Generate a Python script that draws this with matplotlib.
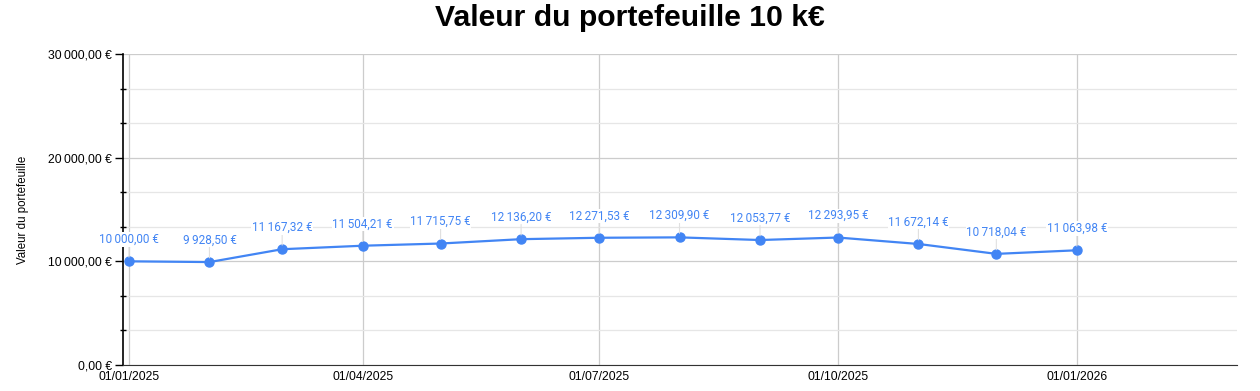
import numpy as np
import matplotlib
matplotlib.use("Agg")
from matplotlib import pyplot as plt
import matplotlib.dates as mdates
from matplotlib.ticker import FuncFormatter, MultipleLocator
import datetime as dt

dates = [dt.date(2025, m, 1) for m in range(1, 13)] + [dt.date(2026, 1, 1)]
values = [10000.00, 9928.50, 11167.32, 11504.21, 11715.75, 12136.20, 12271.53,
          12309.90, 12053.77, 12293.95, 11672.14, 10718.04, 11063.98]
xtick_dates = [dt.date(2025, 1, 1), dt.date(2025, 4, 1), dt.date(2025, 7, 1),
               dt.date(2025, 10, 1), dt.date(2026, 1, 1)]

BLUE = "#4285F4"


def euro(v, decimals=2):
    s = f"{v:,.{decimals}f}"
    s = s.replace(",", "\u2009").replace(".", ",")
    return s + " €"


fig = plt.figure(figsize=(12.6, 3.91), dpi=100)
ax = fig.add_axes([0.0976, 0.0665, 0.884, 0.7955])

x = mdates.date2num(dates)
ax.plot(x, values, color=BLUE, lw=1.6, marker="o", ms=6.5, zorder=3)

for xi, v in zip(x, values):
    ax.annotate(euro(v), (xi, v), xytext=(0, 11), textcoords="offset points",
                ha="center", va="bottom", color=BLUE, fontsize=8.5,
                family="Roboto",
                bbox=dict(boxstyle="square,pad=0.05", fc="white", ec="none"),
                arrowprops=dict(arrowstyle="-", color="#e0e0e0", lw=0.8,
                                shrinkA=0, shrinkB=3))

x0 = mdates.date2num(dt.date(2025, 1, 1))
ax.set_xlim(x0 - 2.3, x0 + 426.6)
ax.set_ylim(0, 30000)

ax.set_xticks(mdates.date2num(xtick_dates))
ax.xaxis.set_major_formatter(mdates.DateFormatter("%d/%m/%Y"))
ax.yaxis.set_major_locator(MultipleLocator(10000))
ax.yaxis.set_minor_locator(MultipleLocator(10000 / 3))
ax.yaxis.set_major_formatter(FuncFormatter(lambda v, p: euro(v)))

ax.grid(True, which="major", color="#cccccc", lw=0.9)
ax.grid(True, which="minor", axis="y", color="#e6e6e6", lw=0.9)
ax.set_axisbelow(True)

for s in ["top", "right"]:
    ax.spines[s].set_visible(False)
ax.spines["left"].set_color("black")
ax.spines["bottom"].set_color("#333333")
ax.spines["left"].set_linewidth(1.2)

ax.tick_params(axis="y", which="major", length=6, width=1, labelsize=8.7,
               pad=2)
ax.tick_params(axis="y", which="minor", length=4, width=1, direction="inout")
ax.tick_params(axis="x", length=0, labelsize=8.7, pad=4)
for lab in ax.get_xticklabels() + ax.get_yticklabels():
    lab.set_family("Liberation Sans")

ax.set_ylabel("Valeur du portefeuille", family="Liberation Sans", fontsize=8.3)
ax.yaxis.set_label_coords(-0.084, 0.5)
fig.text(0.5, 0.955, "Valeur du portefeuille 10 k€", ha="center", va="center",
         fontsize=21.7, fontweight="bold", family="Liberation Sans")

fig.savefig("out.png", dpi=100)
